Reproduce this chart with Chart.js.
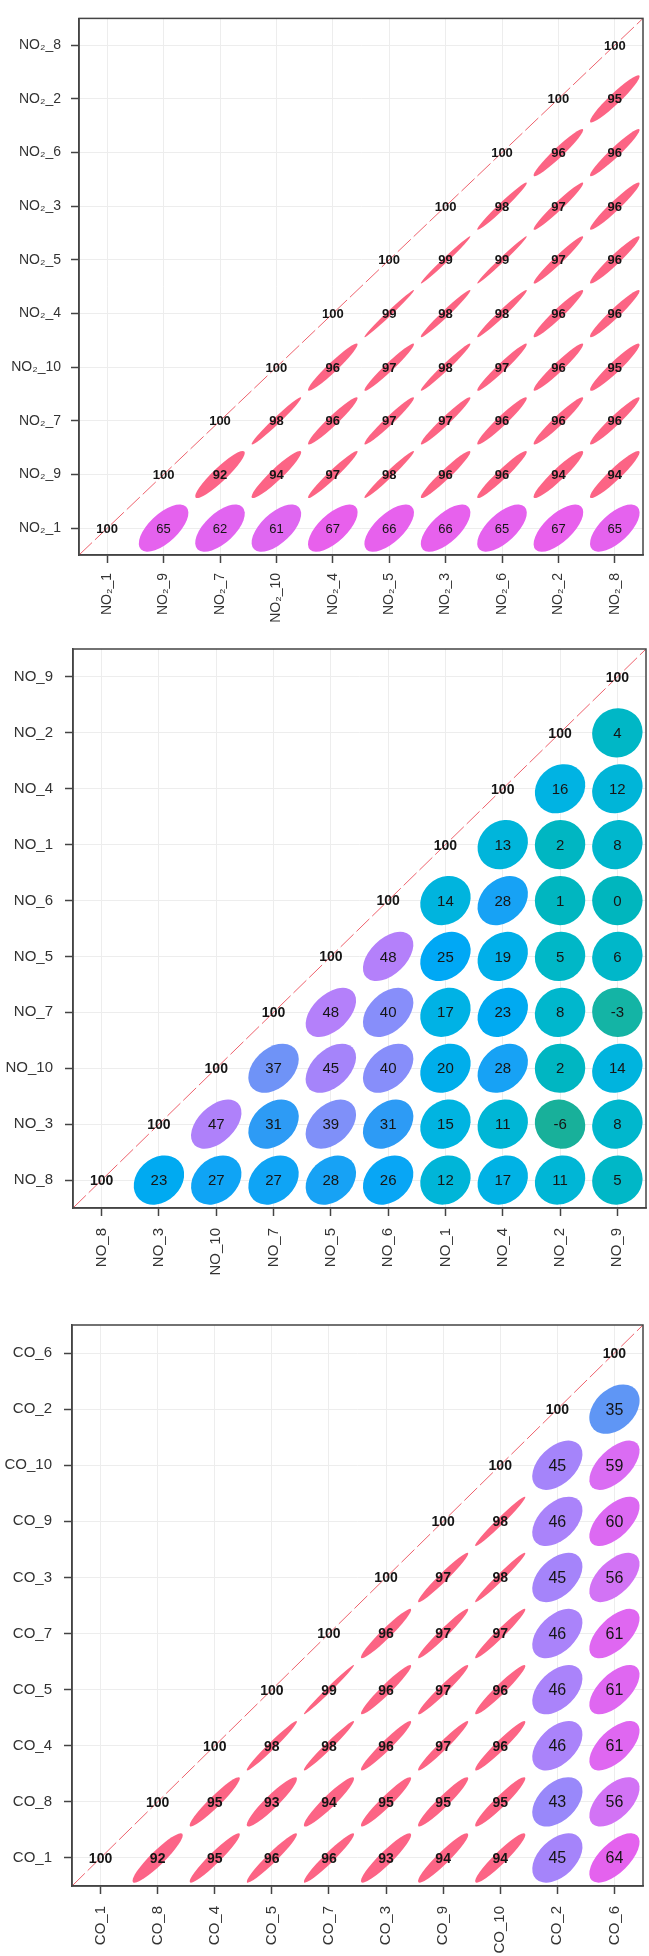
<!DOCTYPE html>
<html>
<head>
<meta charset="utf-8">
<script src="https://cdn.jsdelivr.net/npm/chart.js@4"></script>
<style>
  html, body { margin: 0; padding: 0; background: #fff; }
  body { width: 649px; height: 1956px; position: relative; overflow: hidden; }
  .panel { position: absolute; left: 0; width: 649px; }
</style>
</head>
<body>
<div class="panel" style="top:0;height:628px"><canvas id="no2Chart"></canvas></div>
<div class="panel" style="top:628px;height:676px"><canvas id="noChart"></canvas></div>
<div class="panel" style="top:1304px;height:652px"><canvas id="coChart"></canvas></div>
<script>
// variable order (bottom row / left column first)
const no2Vars = ["NO₂_1", "NO₂_9", "NO₂_7", "NO₂_10", "NO₂_4", "NO₂_5", "NO₂_3", "NO₂_6", "NO₂_2", "NO₂_8"];
const noVars = ["NO_8", "NO_3", "NO_10", "NO_7", "NO_5", "NO_6", "NO_1", "NO_4", "NO_2", "NO_9"];
const coVars = ["CO_1", "CO_8", "CO_4", "CO_5", "CO_7", "CO_3", "CO_9", "CO_10", "CO_2", "CO_6"];

// correlation x100, each row starts at the diagonal
const no2Corr = [
  [100, 65, 62, 61, 67, 66, 66, 65, 67, 65],
  [100, 92, 94, 97, 98, 96, 96, 94, 94],
  [100, 98, 96, 97, 97, 96, 96, 96],
  [100, 96, 97, 98, 97, 96, 95],
  [100, 99, 98, 98, 96, 96],
  [100, 99, 99, 97, 96],
  [100, 98, 97, 96],
  [100, 96, 96],
  [100, 95],
  [100],
];
const noCorr = [
  [100, 23, 27, 27, 28, 26, 12, 17, 11, 5],
  [100, 47, 31, 39, 31, 15, 11, -6, 8],
  [100, 37, 45, 40, 20, 28, 2, 14],
  [100, 48, 40, 17, 23, 8, -3],
  [100, 48, 25, 19, 5, 6],
  [100, 14, 28, 1, 0],
  [100, 13, 2, 8],
  [100, 16, 12],
  [100, 4],
  [100],
];
const coCorr = [
  [100, 92, 95, 96, 96, 93, 94, 94, 45, 64],
  [100, 95, 93, 94, 95, 95, 95, 43, 56],
  [100, 98, 98, 96, 97, 96, 46, 61],
  [100, 99, 96, 97, 96, 46, 61],
  [100, 96, 97, 97, 46, 61],
  [100, 97, 98, 45, 56],
  [100, 98, 46, 60],
  [100, 45, 59],
  [100, 35],
  [100],
];

const colorStops = [
  [-0.10, [30, 170, 140]],
  [-0.03, [20, 180, 165]],
  [0.00, [0, 182, 190]],
  [0.08, [0, 183, 205]],
  [0.15, [0, 180, 225]],
  [0.25, [0, 168, 245]],
  [0.31, [45, 155, 245]],
  [0.35, [95, 150, 245]],
  [0.40, [135, 142, 250]],
  [0.45, [165, 132, 250]],
  [0.48, [180, 128, 250]],
  [0.56, [210, 115, 245]],
  [0.62, [225, 100, 240]],
  [0.67, [232, 96, 236]],
  [0.80, [245, 95, 180]],
  [0.92, [252, 100, 135]],
  [1.00, [252, 100, 128]],
];

function corrColor(r) {
  if (r <= colorStops[0][0]) return "rgb(" + colorStops[0][1].join(",") + ")";
  for (let i = 1; i < colorStops.length; i++) {
    const [r1, c1] = colorStops[i];
    const [r0, c0] = colorStops[i - 1];
    if (r <= r1) {
      const t = (r - r0) / (r1 - r0);
      const c = c0.map((v, k) => Math.round(v + (c1[k] - v) * t));
      return "rgb(" + c.join(",") + ")";
    }
  }
  return "rgb(" + colorStops[colorStops.length - 1][1].join(",") + ")";
}

function corrPlugin(coefSize, boldSize) {
  return {
    id: "corrCells",
    afterDatasetsDraw(chart) {
      const ctx = chart.ctx;
      const xs = chart.scales.x, ys = chart.scales.y;
      const cw = Math.abs(xs.getPixelForValue(1) - xs.getPixelForValue(0));
      const ch = Math.abs(ys.getPixelForValue(1) - ys.getPixelForValue(0));
      const meta = chart.getDatasetMeta(1);
      const pts = chart.data.datasets[1].data;
      meta.data.forEach((el, n) => {
        const r = pts[n].v / 100;
        if (r >= 1) return;
        ctx.save();
        ctx.translate(el.x, el.y);
        ctx.scale(cw * 0.88, ch * 0.88);
        ctx.rotate(-Math.PI / 4);
        ctx.beginPath();
        ctx.ellipse(0, 0, Math.sqrt(1 + r) / 2, Math.max(Math.sqrt(1 - r) / 2, 0.02), 0, 0, Math.PI * 2);
        ctx.fillStyle = corrColor(r);
        ctx.fill();
        ctx.restore();
      });
      ctx.save();
      ctx.textAlign = "center";
      ctx.textBaseline = "middle";
      ctx.fillStyle = "#151515";
      meta.data.forEach((el, n) => {
        const v = pts[n].v;
        ctx.font = v >= 90
          ? "bold " + boldSize + "px 'Liberation Sans', Arial, sans-serif"
          : coefSize + "px 'Liberation Sans', Arial, sans-serif";
        ctx.fillText(String(v), el.x, el.y + 1);
      });
      ctx.restore();
    },
    afterDraw(chart) {
      const a = chart.chartArea, ctx = chart.ctx;
      ctx.save();
      ctx.strokeStyle = "#444";
      ctx.lineWidth = 1.5;
      ctx.strokeRect(a.left, a.top, a.right - a.left, a.bottom - a.top);
      ctx.restore();
    },
  };
}

function corrChart(id, vars, rows, g) {
  const cells = [];
  rows.forEach((row, i) => row.forEach((v, k) => cells.push({ x: i + k, y: i, v: v })));
  const n = vars.length;
  const axis = (fit) => ({
    type: "linear",
    min: -0.5,
    max: n - 0.5,
    afterBuildTicks: (s) => { s.ticks = vars.map((_, i) => ({ value: i })); },
    afterFit: fit,
    ticks: {
      callback: (v) => vars[v],
      autoSkip: false,
      color: "#333",
      font: { size: g.tickSize },
      padding: g.tickPad,
    },
    grid: { color: "#EDEDED", tickColor: "#444", tickLength: 8, tickWidth: 1.5 },
    border: { color: "#444", width: 1.5 },
  });
  const xAxis = axis((s) => { s.height = g.xHeight; });
  xAxis.ticks.maxRotation = 90;
  xAxis.ticks.minRotation = 90;
  const yAxis = axis((s) => { s.width = g.left; });

  new Chart(document.getElementById(id), {
    type: "scatter",
    data: {
      datasets: [
        {
          type: "line",
          data: [{ x: -0.5, y: -0.5 }, { x: n - 0.5, y: n - 0.5 }],
          borderColor: "rgba(236,80,92,0.9)",
          borderWidth: 1,
          borderDash: [18, 4],
          pointRadius: 0,
          fill: false,
        },
        { data: cells, pointRadius: 0 },
      ],
    },
    options: {
      responsive: true,
      maintainAspectRatio: false,
      animation: false,
      events: [],
      layout: { padding: { top: g.top, right: g.right, left: 0, bottom: 0 } },
      plugins: { legend: { display: false }, tooltip: { enabled: false } },
      scales: { x: xAxis, y: yAxis },
    },
    plugins: [corrPlugin(g.coefSize, g.boldSize)],
  });
}

Chart.defaults.font.family = "'Liberation Sans', Arial, sans-serif";

corrChart("no2Chart", no2Vars, no2Corr, { left: 79, top: 1, right: 6, xHeight: 73, tickSize: 14, tickPad: 10, coefSize: 13, boldSize: 13 });
corrChart("noChart", noVars, noCorr, { left: 73, top: 8, right: 3, xHeight: 96, tickSize: 15, tickPad: 12, coefSize: 15, boldSize: 14 });
corrChart("coChart", coVars, coCorr, { left: 72, top: 9, right: 6, xHeight: 70, tickSize: 15, tickPad: 12, coefSize: 16, boldSize: 14 });
</script>
</body>
</html>
